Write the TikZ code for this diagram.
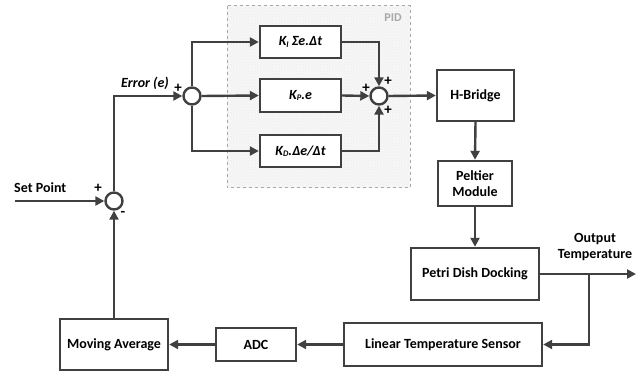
\documentclass[tikz,border=0pt]{standalone}
\usepackage{fontspec}
\setmainfont{Carlito}
\usetikzlibrary{arrows.meta,patterns}
\definecolor{ln}{HTML}{404040}
\definecolor{pidgray}{HTML}{A8A8A8}
\tikzset{
  blk/.style={draw=ln,line width=2.4pt,fill=white,inner sep=0pt,align=center,font=\fontsize{14pt}{16pt}\selectfont\bfseries},
  sumj/.style={circle,draw=ln,line width=2.4pt,fill=white,minimum size=17pt,inner sep=0pt},
  con/.style={draw=ln,line width=2.4pt,-{Triangle[length=9pt,width=9pt]}},
  lbl/.style={font=\fontsize{14pt}{16pt}\selectfont\bfseries,text=black,inner sep=0pt},
  sgn/.style={font=\fontsize{15pt}{16pt}\selectfont\bfseries,text=black,inner sep=0pt}
}
\newcommand{\subk}[1]{\raisebox{-0.2ex}{\fontsize{8.5pt}{9pt}\selectfont #1}}
\begin{document}
\begin{tikzpicture}[x=1pt,y=-1pt]
\useasboundingbox (0,0) rectangle (640,371);
% PID background
\path[fill=gray!5] (227,6) rectangle (410,188);
\path[pattern=crosshatch,pattern color=gray!10] (227,6) rectangle (410,188);
\draw[pidgray,dashed,line width=1pt] (227,6) rectangle (410,188);
\node[font=\fontsize{12pt}{14pt}\selectfont\bfseries,text=pidgray] (pidl) at (393,18) {PID};
% junctions
\node[sumj] (s0) at (114,201) {};
\node[sumj] (s1) at (192,96) {};
\node[sumj] (s2) at (379,96) {};
% PID blocks
\node[blk,minimum width=81pt,minimum height=32pt] (ki) at (300.5,42) {\itshape K\subk{I} Σe.Δt};
\node[blk,minimum width=81pt,minimum height=33pt] (kp) at (300.5,95.5) {\itshape K\subk{P}.e};
\node[blk,minimum width=81pt,minimum height=32pt] (kd) at (300.5,151) {\itshape K\subk{D}.Δe/Δt};
% plant
\node[blk,minimum width=77pt,minimum height=51pt] (hb) at (475.5,95.5) {H-Bridge};
\node[blk,minimum width=74pt,minimum height=45pt] (pm) at (475,183.5) {Peltier\\Module};
\node[blk,minimum width=128pt,minimum height=52pt] (pd) at (475,274) {Petri Dish Docking};
\node[blk,minimum width=198pt,minimum height=43pt] (lts) at (443,344.5) {Linear Temperature Sensor};
\node[blk,minimum width=80pt,minimum height=33pt] (adc) at (256,344.5) {ADC};
\node[blk,minimum width=108pt,minimum height=51pt] (ma) at (114,344.5) {Moving Average};
% coordinates
\coordinate (sp) at (15,201);
\coordinate (out) at (636,274);
\coordinate (br) at (589,274);
% connectors
\draw[con] (sp) -- (s0.west);
\draw[con] (ma.north) -- (s0.south);
\draw[con] (s0.north) |- (s1.west);
\draw[con] (s1.north) |- (ki.west);
\draw[con] (s1.east) -- (kp.west);
\draw[con] (s1.south) |- (kd.west);
\draw[con] (ki.east) -| (s2.north);
\draw[con] (kp.east) -- (s2.west);
\draw[con] (kd.east) -| (s2.south);
\draw[con] (s2.east) -- (hb.west);
\draw[con] (hb.south) -- (pm.north);
\draw[con] (pm.south) -- (pd.north);
\draw[con] (pd.east) -- (out);
\draw[con] (br) |- (lts.east);
\draw[con] (lts.west) -- (adc.east);
\draw[con] (adc.west) -- (ma.east);
% labels
\node[lbl,anchor=west] (splbl) at (14,188) {Set Point};
\node[lbl,font=\fontsize{14pt}{16pt}\selectfont\bfseries\itshape] (err) at (145,83) {Error (e)};
\node[lbl,align=center] (outlbl) at (595,247) {Output\\Temperature};
% signs
\node[sgn] (p0) at (98,188) {+};
\node[sgn] (m0) at (123,214) {-};
\node[sgn] (p1) at (178,88) {+};
\node[sgn] (p2a) at (366,88) {+};
\node[sgn] (p2b) at (388,81) {+};
\node[sgn] (p2c) at (388,110) {+};
\end{tikzpicture}
\end{document}
